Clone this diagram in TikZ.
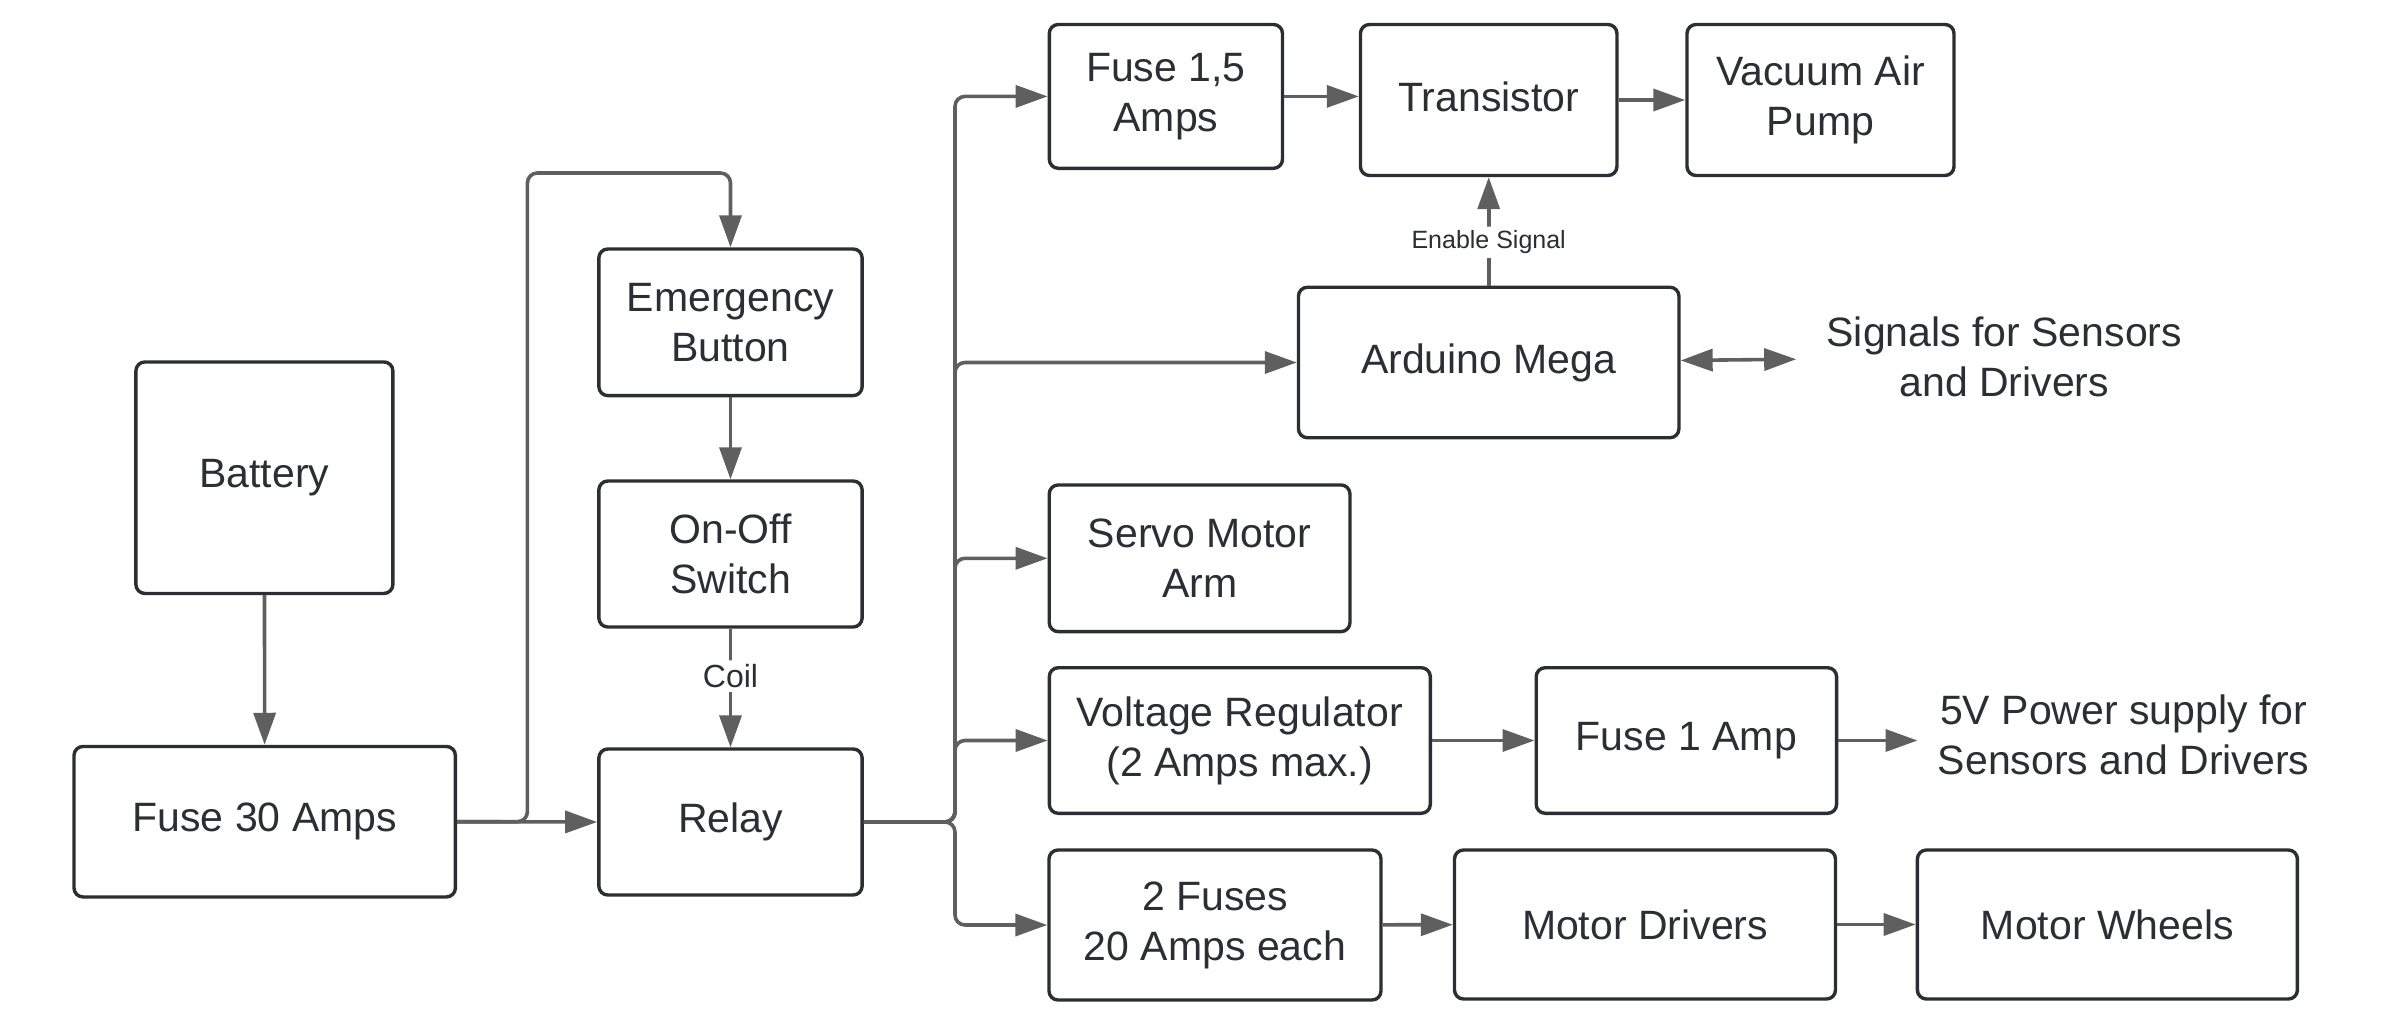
\documentclass[tikz,border=0pt]{standalone}
\usepackage{fontspec}
\setmainfont{Liberation Sans}
\usetikzlibrary{arrows.meta}

\definecolor{bord}{HTML}{2B2E34}
\definecolor{trait}{HTML}{5F5F5F}

\tikzset{pointe/.tip = {Triangle[length=16pt, width=11pt]},
         boite/.style 2 args = {draw=bord, line width=1.7pt, rounded corners=4.5pt,
                                minimum width=#1, minimum height=#2,
                                align=center, text=bord,
                                font=\fontsize{20.5}{25}\selectfont},
         legende/.style = {align=center, text=bord, inner sep=0pt,
                           font=\fontsize{20.5}{25}\selectfont},
         fleche/.style = {draw=trait, line width=1.8pt, rounded corners=5pt, -pointe},
         etiquette/.style = {fill=white, text=bord, inner sep=2pt, font=\fontsize{#1}{#1}\selectfont},
         etiquette/.default = 16
        }

\begin{document}
\begin{tikzpicture}[x=0.5pt, y=-0.5pt]
  \useasboundingbox (0,0) rectangle (2406,1017);

  % alimentation
  \node[boite={128.5pt}{115.75pt}] (bat) at (264.4,477.7) {Battery};
  \node[boite={190.7pt}{75.25pt}] (f30) at (264.7,821.7) {Fuse 30 Amps};
  \node[boite={131.65pt}{73.3pt}] (emerg) at (730.5,322.3) {Emergency\\Button};
  \node[boite={131.65pt}{73pt}] (onoff) at (730.5,554) {On-Off\\Switch};
  \node[boite={131.65pt}{73pt}] (relay) at (730.5,822) {Relay};

  % branches
  \node[boite={116.6pt}{71.9pt}] (f15) at (1165.9,96.4) {\raisebox{-2pt}{Fuse 1,5}\\\raisebox{-2pt}{Amps}};
  \node[boite={128.25pt}{75.5pt}] (trans) at (1488.7,100) {\raisebox{3pt}{Transistor}};
  \node[boite={133.5pt}{75.5pt}] (vac) at (1820.5,100) {Vacuum Air\\Pump};
  \node[boite={190.25pt}{75.25pt}] (ard) at (1488.7,362.5) {Arduino Mega};
  \node[legende] (sig) at (2004.3,357) {Signals for Sensors\\and Drivers};
  \node[boite={150.35pt}{73.35pt}] (servo) at (1199.6,558.3) {Servo Motor\\Arm};
  \node[boite={190.5pt}{72.8pt}] (vreg) at (1239.8,740.5) {Voltage Regulator\\(2 Amps max.)};
  \node[boite={150.2pt}{72.8pt}] (f1) at (1686.4,740.5) {Fuse 1 Amp};
  \node[legende] (pwr) at (2123.6,735) {5V Power supply for\\Sensors and Drivers};
  \node[boite={166pt}{75pt}] (fdeux) at (1215,925) {2 Fuses\\20 Amps each};
  \node[boite={190.5pt}{74.5pt}] (mdrv) at (1645,924.5) {Motor Drivers};
  \node[boite={190pt}{74.5pt}] (mwhl) at (2107.4,924.5) {Motor Wheels};

  \coordinate (haut) at (527.4,173);
  \coordinate (tronc) at (955,822);

  \draw[fleche] (bat) -- (f30);
  \draw[fleche] (f30.east) -- (relay.west);
  \draw[fleche] (f30.east) -| (haut) -| (emerg.north);
  \draw[fleche] (emerg) -- (onoff);
  \draw[fleche] (onoff) -- node[etiquette, pos=0.4] {Coil} (relay);

  \foreach \cible in {f15, ard, servo, vreg, fdeux}
    \draw[fleche] (relay.east) -- (tronc) |- (\cible.west);

  \draw[fleche] (f15.east) -- (f15.east -| trans.west);
  \draw[fleche] (trans) -- (vac);
  \draw[fleche] (ard) -- node[etiquette=12.5, pos=0.4] {Enable Signal} (trans);
  \draw[fleche, pointe-pointe, shorten >=15pt] (ard) -- (sig);
  \draw[fleche] (vreg) -- (f1);
  \draw[fleche, shorten >=10pt] (f1.east) -- (f1.east -| pwr.west);
  \draw[fleche] (fdeux) -- (mdrv);
  \draw[fleche] (mdrv) -- (mwhl);
\end{tikzpicture}
\end{document}
